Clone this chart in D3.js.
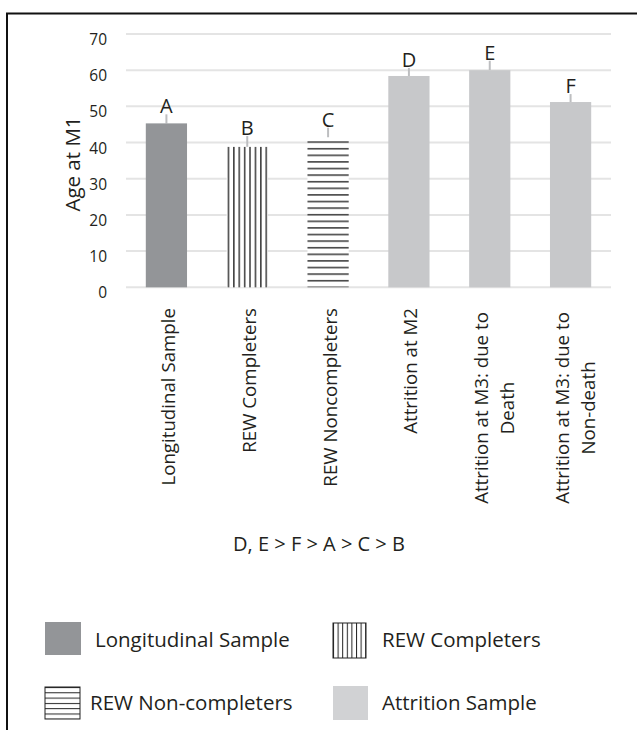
<!DOCTYPE html>
<html>
<head>
<meta charset="utf-8">
<script src="https://cdn.jsdelivr.net/npm/d3@7"></script>
<style>
  body { margin: 0; background: #fff; }
  svg text { font-family: "Open Sans", sans-serif; fill: #231f20; }
</style>
</head>
<body>
<svg id="chart" width="637" height="730"></svg>
<script>
// chart data
const categories = [
  ["Longitudinal Sample"],
  ["REW Completers"],
  ["REW Noncompleters"],
  ["Attrition at M2"],
  ["Attrition at M3: due to", "Death"],
  ["Attrition at M3: due to", "Non-death"]
];
const means = [45.3, 38.8, 41.4, 58.4, 60.0, 51.2];
const errUp = [2.5, 3.0, 2.7, 2.2, 2.6, 2.2];
const letters = ["A", "B", "C", "D", "E", "F"];
const groups = ["long", "rewc", "rewn", "attr", "attr", "attr"];
const yTicks = [0, 10, 20, 30, 40, 50, 60, 70];
const rankText = "D, E > F > A > C > B";
const legendItems = [
  { key: "long", label: "Longitudinal Sample" },
  { key: "rewc", label: "REW Completers" },
  { key: "rewn", label: "REW Non-completers" },
  { key: "attr", label: "Attrition Sample" }
];

const svg = d3.select("#chart");

// frame (left and top only, like the scan)
svg.append("path")
  .attr("d", "M7,730 V13.5 H637")
  .attr("fill", "none")
  .attr("stroke", "#111")
  .attr("stroke-width", 2);

const x = d3.scaleBand()
  .domain(d3.range(categories.length))
  .range([126, 611])
  .paddingInner(0.49)
  .paddingOuter(0.245);

const y = d3.scaleLinear()
  .domain([0, 70])
  .range([287.3, 34]);

// patterns
const defs = svg.append("defs");

let pv = defs.append("pattern")
  .attr("id", "vlines")
  .attr("patternUnits", "userSpaceOnUse")
  .attr("width", 5.4).attr("height", 10)
  .attr("x", x(1) + 1);
pv.append("rect").attr("width", 5.4).attr("height", 10).attr("fill", "#fff");
pv.append("line").attr("x1", 0.8).attr("x2", 0.8).attr("y1", 0).attr("y2", 10)
  .attr("stroke", "#454545").attr("stroke-width", 1.6);

let ph = defs.append("pattern")
  .attr("id", "hlines")
  .attr("patternUnits", "userSpaceOnUse")
  .attr("width", 10).attr("height", 6.6)
  .attr("y", y(0) - 0.8);
ph.append("rect").attr("width", 10).attr("height", 6.6).attr("fill", "#fff");
ph.append("line").attr("x1", 0).attr("x2", 10).attr("y1", 0.8).attr("y2", 0.8)
  .attr("stroke", "#454545").attr("stroke-width", 1.6);

// legend patterns (finer, thin black lines)
let lv = defs.append("pattern")
  .attr("id", "lvlines")
  .attr("patternUnits", "userSpaceOnUse")
  .attr("width", 4.6).attr("height", 10)
  .attr("x", 333);
lv.append("rect").attr("width", 4.6).attr("height", 10).attr("fill", "#fff");
lv.append("line").attr("x1", 0.5).attr("x2", 0.5).attr("y1", 0).attr("y2", 10)
  .attr("stroke", "#222").attr("stroke-width", 1);

let lh = defs.append("pattern")
  .attr("id", "lhlines")
  .attr("patternUnits", "userSpaceOnUse")
  .attr("width", 10).attr("height", 5.3)
  .attr("y", 687);
lh.append("rect").attr("width", 10).attr("height", 5.3).attr("fill", "#fff");
lh.append("line").attr("x1", 0).attr("x2", 10).attr("y1", 0.5).attr("y2", 0.5)
  .attr("stroke", "#222").attr("stroke-width", 1);

const fills = { long: "#939598", rewc: "url(#vlines)", rewn: "url(#hlines)", attr: "#c7c8ca" };
const legendFills = { long: "#939598", rewc: "url(#lvlines)", rewn: "url(#lhlines)", attr: "#d1d2d4" };

// gridlines
svg.append("g").selectAll("line")
  .data(yTicks)
  .join("line")
  .attr("x1", 126).attr("x2", 611)
  .attr("y1", d => y(d)).attr("y2", d => y(d))
  .attr("stroke", "#e4e4e4")
  .attr("stroke-width", 2);

// y tick labels
svg.append("g").selectAll("text")
  .data(yTicks)
  .join("text")
  .attr("x", 107)
  .attr("y", d => y(d) + 11)
  .attr("text-anchor", "end")
  .style("font-size", "15.5px")
  .text(d => d);

// y axis title
svg.append("text")
  .attr("transform", "translate(80,164) rotate(-90)")
  .attr("text-anchor", "middle")
  .style("font-size", "20.5px")
  .text("Age at M1");

// error bars (upper only)
svg.append("g").selectAll("line")
  .data(means)
  .join("line")
  .attr("x1", (d, i) => x(i) + x.bandwidth() / 2)
  .attr("x2", (d, i) => x(i) + x.bandwidth() / 2)
  .attr("y1", d => y(d))
  .attr("y2", (d, i) => y(d + errUp[i]))
  .attr("stroke", "#bdbec0")
  .attr("stroke-width", 2);

// bars
svg.append("g").selectAll("rect")
  .data(means)
  .join("rect")
  .attr("x", (d, i) => x(i))
  .attr("y", d => y(d))
  .attr("width", x.bandwidth())
  .attr("height", d => y(0) - y(d))
  .attr("fill", (d, i) => fills[groups[i]]);

// significance letters
svg.append("g").selectAll("text")
  .data(means)
  .join("text")
  .attr("x", (d, i) => x(i) + x.bandwidth() / 2)
  .attr("y", (d, i) => y(d + errUp[i]) - 1)
  .attr("text-anchor", "middle")
  .style("font-size", "20px")
  .text((d, i) => letters[i]);

// category labels, rotated
const catG = svg.append("g").selectAll("g")
  .data(categories)
  .join("g")
  .attr("transform", (d, i) => {
    const cx = x(i) + x.bandwidth() / 2;
    return d.length > 1
      ? "translate(" + cx + ",408) rotate(-90)"
      : "translate(" + cx + ",308) rotate(-90)";
  });

catG.each(function (lines) {
  const g = d3.select(this);
  lines.forEach((line, j) => {
    g.append("text")
      .attr("x", 0)
      .attr("y", lines.length > 1 ? -2 + j * 26 : 8.5)
      .attr("text-anchor", lines.length > 1 ? "middle" : "end")
      .style("font-size", "18.7px")
      .text(line);
  });
});

// ranking note
svg.append("text")
  .attr("x", 319)
  .attr("y", 551)
  .attr("text-anchor", "middle")
  .style("font-size", "20px")
  .text(rankText);

// legend
const legendPos = [
  { bx: 45, by: 622, bw: 36, bh: 33, tx: 95, ty: 647 },
  { bx: 333, by: 623, bw: 33, bh: 35, tx: 382, ty: 647 },
  { bx: 45, by: 687, bw: 35, bh: 32, tx: 90, ty: 710 },
  { bx: 333, by: 686, bw: 35, bh: 34, tx: 382, ty: 710 }
];

const leg = svg.append("g").selectAll("g")
  .data(legendItems)
  .join("g");

leg.append("rect")
  .attr("x", (d, i) => legendPos[i].bx)
  .attr("y", (d, i) => legendPos[i].by)
  .attr("width", (d, i) => legendPos[i].bw)
  .attr("height", (d, i) => legendPos[i].bh)
  .attr("fill", d => legendFills[d.key])
  .attr("stroke", d => (d.key === "rewc" || d.key === "rewn") ? "#222" : "none")
  .attr("stroke-width", 1);

leg.append("text")
  .attr("x", (d, i) => legendPos[i].tx)
  .attr("y", (d, i) => legendPos[i].ty)
  .style("font-size", "20.5px")
  .text(d => d.label);
</script>
</body>
</html>
